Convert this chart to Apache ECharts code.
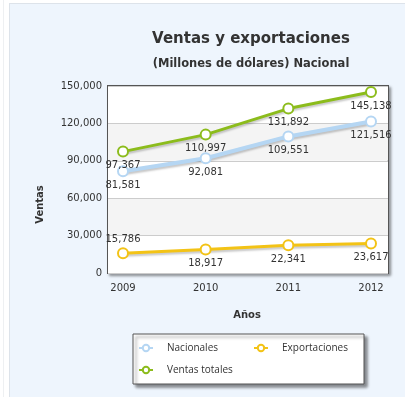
<!DOCTYPE html>
<html>
<head>
<meta charset="utf-8">
<script src="https://cdn.jsdelivr.net/npm/echarts@6/dist/echarts.min.js"></script>
<style>
  html, body { margin: 0; padding: 0; background: #ffffff; }
  #wrap { position: relative; width: 405px; height: 397px; overflow: hidden; background: #ffffff; }
  #edge { position: absolute; left: 3px; top: 0; width: 1px; height: 397px; background: #eef0f2; }
  #panel { position: absolute; left: 9px; top: 3px; width: 400px; height: 400px;
           background: #eef5fd; border: 1px solid #dde3ea; box-sizing: border-box; }
  #chart { position: absolute; left: 0; top: 0; width: 405px; height: 397px; }
</style>
</head>
<body>
<div id="wrap">
  <div id="edge"></div>
  <div id="panel"></div>
  <div id="chart"></div>
</div>
<script>
// Sales and exports, millions of dollars
const years = ['2009', '2010', '2011', '2012'];
const nacionales = [81581, 92081, 109551, 121516];
const exportaciones = [15786, 18917, 22341, 23617];
const ventasTotales = [97367, 110997, 131892, 145138];
const yTicks = { min: 0, max: 150000, interval: 30000 };

const FONT = 'DejaVu Sans';
const fmt = v => String(v).replace(/\B(?=(\d{3})+(?!\d))/g, ',');

const COLORS = { nac: '#b5d6f3', exp: '#f3c316', tot: '#8cbc1c' };

function lineSeries(name, data, color, width, labelPos) {
  return {
    name: name,
    type: 'line',
    xAxisIndex: 1,
    yAxisIndex: 1,
    data: data.map((v, i) => ({
      value: v,
      label: { position: labelPos[i] }
    })),
    symbol: 'circle',
    symbolSize: 10,
    lineStyle: {
      color: color, width: width,
      shadowColor: 'rgba(0,0,0,0.22)', shadowBlur: 2, shadowOffsetY: 2
    },
    itemStyle: { color: '#ffffff', borderColor: color, borderWidth: 2 },
    label: {
      show: true, distance: 3,
      fontFamily: FONT, fontSize: 10, color: '#333333',
      formatter: p => fmt(p.value)
    },
    emphasis: { disabled: true },
    animation: false
  };
}

const chart = echarts.init(document.getElementById('chart'), null, { renderer: 'canvas' });
chart.setOption({
  animation: false,
  title: [
    {
      text: 'Ventas y exportaciones',
      left: 246, top: 27, textAlign: 'center',
      textStyle: { fontFamily: FONT, fontSize: 15, fontWeight: 'bold', color: '#333333' }
    },
    {
      text: '(Millones de dólares) Nacional',
      left: 246, top: 53, textAlign: 'center',
      textStyle: { fontFamily: FONT, fontSize: 11.5, fontWeight: 'bold', color: '#333333' }
    }
  ],
  grid: [
    {
      left: 108, top: 86, width: 280, height: 187,
      show: true, backgroundColor: '#ffffff',
      borderColor: '#555555', borderWidth: 2,
      shadowColor: 'rgba(0,0,0,0.35)', shadowBlur: 3, shadowOffsetX: 2, shadowOffsetY: 2
    },
    { left: 123, top: 86, width: 248, height: 187 }
  ],
  xAxis: [
    { type: 'category', gridIndex: 0, data: years, show: false },
    {
      type: 'category', gridIndex: 1, data: years, boundaryGap: false,
      axisLine: { show: false }, axisTick: { show: false }, splitLine: { show: false },
      axisLabel: { margin: 10, fontFamily: FONT, fontSize: 10, color: '#333333' },
      name: 'Años', nameLocation: 'middle', nameGap: 37,
      nameTextStyle: { fontFamily: FONT, fontSize: 10, fontWeight: 'bold', color: '#333333' }
    }
  ],
  yAxis: [
    {
      type: 'value', gridIndex: 0,
      min: yTicks.min, max: yTicks.max, interval: yTicks.interval,
      axisLine: { show: false }, axisTick: { show: false },
      axisLabel: { margin: 6, fontFamily: FONT, fontSize: 10, color: '#333333', formatter: fmt },
      splitLine: { show: true, lineStyle: { color: '#cccccc', width: 1 } },
      // bands alternate from the bottom: white, grey, white, grey, white
      splitArea: { show: true, areaStyle: { color: ['#ffffff', '#f4f4f4'] } },
      name: 'Ventas', nameLocation: 'middle', nameGap: 63, nameRotate: 90,
      nameTextStyle: { fontFamily: FONT, fontSize: 10, fontWeight: 'bold', color: '#333333',
                       padding: [0, 50, 0, 0] }
    },
    {
      type: 'value', gridIndex: 1,
      min: yTicks.min, max: yTicks.max, interval: yTicks.interval, show: false
    }
  ],
  legend: {
    left: 133, top: 334, width: 222,
    orient: 'horizontal',
    padding: [8, 6, 8, 5],
    itemGap: 10, itemWidth: 14, itemHeight: 8,
    backgroundColor: '#ffffff', borderColor: '#555555', borderWidth: 1,
    shadowColor: 'rgba(0,0,0,0.45)', shadowBlur: 3, shadowOffsetX: 3, shadowOffsetY: 3,
    selectedMode: false,
    textStyle: { fontFamily: 'Open Sans', fontSize: 10, color: '#333333',
                 width: 76, lineHeight: 12, padding: [0, 0, 0, 9] },
    data: ['Nacionales', 'Exportaciones', 'Ventas totales']
  },
  series: [
    lineSeries('Nacionales', nacionales, COLORS.nac, 4, ['bottom', 'bottom', 'bottom', 'bottom']),
    lineSeries('Exportaciones', exportaciones, COLORS.exp, 3, ['top', 'bottom', 'bottom', 'bottom']),
    lineSeries('Ventas totales', ventasTotales, COLORS.tot, 3, ['bottom', 'bottom', 'bottom', 'bottom'])
  ]
});
</script>
</body>
</html>
